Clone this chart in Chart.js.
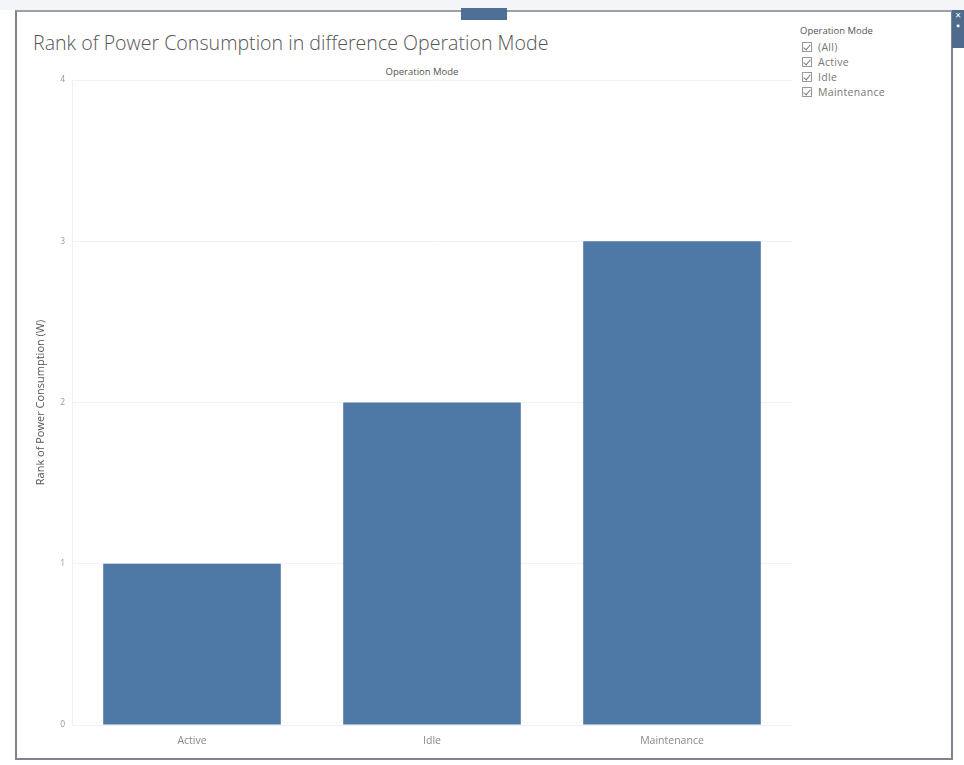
<!DOCTYPE html>
<html>
<head>
<meta charset="utf-8">
<script src="https://cdn.jsdelivr.net/npm/chart.js@4/dist/chart.umd.min.js"></script>
<style>
  html, body { margin: 0; padding: 0; background: #ffffff; }
  body { width: 964px; height: 765px; position: relative; overflow: hidden; font-family: "Open Sans", "Noto Sans", sans-serif; }
  #topbar { position: absolute; left: 0; top: 0; width: 964px; height: 10px; background: #f3f5f8; }
  #frame { position: absolute; left: 15px; top: 10px; width: 934px; height: 746px; border: 2px solid #7d8490; border-top-color: #9aa0a8; box-sizing: content-box; }
  #tab { position: absolute; left: 461px; top: 8px; width: 46px; height: 12px; background: #4e6f96; }
  #strip { position: absolute; left: 952px; top: 10px; width: 12px; height: 38px; background: #4e6a8c; color: #fff; font-size: 10px; line-height: 10px; text-align: center; }
  #title { position: absolute; left: 33px; top: 29px; font-size: 19.6px; color: #555; white-space: nowrap; font-weight: 300; }
  #header { position: absolute; left: 322px; width: 200px; top: 65px; text-align: center; font-size: 9.5px; color: #555; }
  #filter { position: absolute; left: 800px; top: 24px; font-size: 9.5px; color: #777; }
  #filter .head { margin-bottom: 2px; color: #555; }
  #filter .row { height: 15px; display: flex; align-items: center; font-size: 10.5px; letter-spacing: 0.3px; }
  #filter .box { width: 10px; height: 10px; border: 1px solid #999; margin: 0 6px 0 2px; position: relative; box-sizing: border-box; }
  #filter .box::after { content: ""; position: absolute; left: 2px; top: 0px; width: 3px; height: 6px; border-right: 1px solid #777; border-bottom: 1px solid #777; transform: rotate(40deg); }
  #chart { position: absolute; left: 0; top: 0; }
</style>
</head>
<body>
<div id="topbar"></div>
<div id="frame"></div>
<div id="tab"></div>
<div id="strip">×<br>▪</div>
<div id="title">Rank of Power Consumption in difference Operation Mode</div>
<div id="header">Operation Mode</div>
<div id="filter">
  <div class="head">Operation Mode</div>
  <div class="row"><span class="box"></span>(All)</div>
  <div class="row"><span class="box"></span>Active</div>
  <div class="row"><span class="box"></span>Idle</div>
  <div class="row"><span class="box"></span>Maintenance</div>
</div>
<canvas id="chart" width="964" height="765"></canvas>
<script>
// Operation modes and their power-consumption rank
const modes = ["Active", "Idle", "Maintenance"];
const rankValues = [1, 2, 3];
const yTicks = [0, 1, 2, 3, 4];

new Chart(document.getElementById("chart"), {
  type: "bar",
  data: {
    labels: modes,
    datasets: [{
      label: "Rank of Power Consumption (W)",
      data: rankValues,
      backgroundColor: "#4e79a7",
      borderWidth: 0,
      categoryPercentage: 1.0,
      barPercentage: 0.74
    }]
  },
  options: {
    responsive: false,
    animation: false,
    devicePixelRatio: 1,
    layout: { padding: { left: 22, right: 172, top: 80, bottom: 10 } },
    plugins: { legend: { display: false }, tooltip: { enabled: false } },
    scales: {
      x: {
        grid: { display: false },
        border: { display: false },
        ticks: { color: "#888", font: { family: "Open Sans", size: 10.5 }, padding: 2 },
        afterFit: s => { s.height = 30; }
      },
      y: {
        min: 0, max: 4,
        afterBuildTicks: s => { s.ticks = yTicks.map(v => ({ value: v })); },
        grid: { color: "#f2f2f2", drawTicks: false },
        border: { display: true, color: "#f0f0f0" },
        ticks: { color: "#999", font: { family: "Open Sans", size: 8.5 }, padding: 7 },
        title: { display: true, text: "Rank of Power Consumption (W)", color: "#555", font: { family: "Open Sans", size: 11 }, padding: { top: 12, bottom: 0 } },
        afterFit: s => { s.width = 50; }
      }
    }
  }
});
</script>
</body>
</html>
